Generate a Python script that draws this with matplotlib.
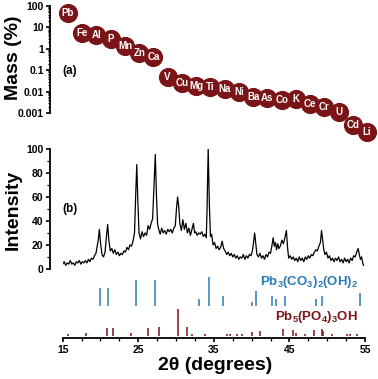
import matplotlib
matplotlib.use("Agg")
import matplotlib.pyplot as plt
from matplotlib.ticker import LogLocator, FixedLocator, NullFormatter

plt.rcParams["font.family"] = ["Liberation Sans", "DejaVu Sans"]
plt.rcParams["font.weight"] = "bold"
plt.rcParams["mathtext.fontset"] = "custom"
plt.rcParams["mathtext.rm"] = "Liberation Sans:bold"
plt.rcParams["mathtext.it"] = "Liberation Sans:bold"
plt.rcParams["mathtext.default"] = "rm"

RED = "#7a1416"
BLUE = "#2a7ab5"

# (a) elemental composition, mass %
elements = ["Pb", "Fe", "Al", "P", "Mn", "Zn", "Ca", "V", "Cu", "Mg", "Ti",
            "Na", "Ni", "Ba", "As", "Co", "K", "Ce", "Cr", "U", "Cd", "Li"]
mass = [47, 5.5, 4.4, 2.9, 1.35, 0.64, 0.42, 0.048, 0.025, 0.018, 0.016,
        0.013, 0.0095, 0.0056, 0.005, 0.004, 0.0045, 0.0026, 0.0019, 0.0011,
        0.00028, 0.00013]

# (b) XRD pattern
two_theta = [15.0, 15.2, 15.4, 15.6, 15.8, 16.0, 16.2, 16.4, 16.6, 16.8, 17.0,
             17.2, 17.4, 17.6, 17.8, 18.0, 18.2, 18.4, 18.6, 18.8, 19.0, 19.2,
             19.4, 19.6, 19.7, 19.85, 20.0, 20.2, 20.4, 20.6, 20.8, 20.95, 21.1,
             21.3, 21.5, 21.7, 21.9, 22.1, 22.3, 22.5, 22.7, 22.9, 23.1, 23.3,
             23.5, 23.7, 23.9, 24.1, 24.3, 24.5, 24.65, 24.8, 24.95, 25.1, 25.3,
             25.5, 25.7, 25.9, 26.1, 26.3, 26.5, 26.7, 26.9, 27.05, 27.25, 27.4,
             27.55, 27.7, 27.9, 28.1, 28.3, 28.5, 28.7, 28.9, 29.1, 29.3, 29.5,
             29.7, 29.9, 30.05, 30.2, 30.35, 30.5, 30.7, 30.9, 31.1, 31.3, 31.5,
             31.7, 31.9, 32.1, 32.3, 32.45, 32.6, 32.8, 33.0, 33.2, 33.4, 33.6,
             33.8, 34.0, 34.1, 34.25, 34.4, 34.55, 34.7, 34.9, 35.1, 35.3, 35.5,
             35.7, 35.9, 36.1, 36.3, 36.5, 36.7, 36.9, 37.1, 37.3, 37.5, 37.7,
             37.9, 38.1, 38.3, 38.5, 38.7, 38.9, 39.1, 39.3, 39.5, 39.7, 39.9,
             40.1, 40.25, 40.4, 40.55, 40.7, 40.9, 41.1, 41.3, 41.5, 41.7, 41.9,
             42.1, 42.3, 42.5, 42.7, 42.85, 43.0, 43.15, 43.3, 43.45, 43.6, 43.8,
             44.0, 44.2, 44.4, 44.6, 44.75, 44.9, 45.1, 45.3, 45.5, 45.7, 45.9,
             46.1, 46.3, 46.5, 46.7, 46.9, 47.1, 47.3, 47.5, 47.7, 47.9, 48.1,
             48.3, 48.5, 48.7, 48.9, 49.1, 49.25, 49.4, 49.55, 49.7, 49.9, 50.1,
             50.3, 50.5, 50.7, 50.9, 51.1, 51.3, 51.5, 51.7, 51.9, 52.1, 52.3,
             52.5, 52.7, 52.9, 53.1, 53.3, 53.5, 53.7, 53.9, 54.1, 54.25, 54.4,
             54.55, 54.7, 54.8]
intensity = [4, 6, 3, 5, 4, 7, 4, 5, 3, 6, 5,
             7, 4, 6, 5, 7, 5, 8, 6, 9, 8, 11,
             13, 20, 24, 33, 22, 12, 10, 14, 28, 37, 24,
             15, 17, 13, 16, 12, 14, 11, 13, 12, 15, 14,
             18, 16, 20, 19, 23, 30, 60, 87, 55, 30, 25,
             31, 27, 30, 28, 36, 33, 38, 42, 65, 95.5, 62,
             38, 33, 29, 34, 30, 32, 29, 33, 31, 33, 30,
             34, 36, 50, 60, 52, 38, 32, 41, 33, 38, 30,
             34, 28, 33, 38, 30, 31, 28, 30, 29, 31, 27,
             29, 26, 50, 100, 55, 27, 29, 20, 22, 17, 19,
             16, 18, 23, 17, 15, 12, 14, 11, 13, 10, 12,
             9, 11, 8, 10, 9, 12, 8, 11, 9, 12, 11,
             15, 22, 30, 21, 12, 10, 13, 9, 11, 8, 12,
             10, 14, 13, 20, 26, 19, 22, 16, 21, 17, 19,
             24, 21, 26, 32, 18, 9, 11, 8, 10, 7, 9,
             6, 10, 7, 9, 6, 10, 8, 11, 9, 12, 11,
             14, 16, 15, 19, 22, 32, 24, 16, 12, 14, 9,
             11, 7, 9, 6, 9, 7, 10, 6, 8, 5, 9,
             6, 8, 5, 9, 7, 11, 10, 14, 17, 12, 8,
             10, 5, 3]

# reference patterns (relative intensity, %)
hc_pos = [19.93, 21.03, 24.75, 27.17, 33.03, 34.3, 36.15, 39.99, 40.6, 42.72,
          43.2, 44.4, 48.5, 49.3, 54.3]
hc_int = [60, 60, 89, 89, 22, 100, 33, 14, 51, 34, 22, 33, 23, 33, 42]
hp_pos = [15.74, 18.04, 20.82, 21.69, 24.03, 26.24, 27.74, 30.21, 31.48, 32.06,
          33.82, 36.7, 37.1, 38.0, 38.7, 40.0, 41.1, 44.2, 45.5, 45.9, 47.1,
          48.2, 49.3, 49.5, 50.6, 52.6, 53.0, 53.9]
hp_int = [6, 11, 29, 29, 11, 29, 33, 100, 33, 6, 6, 6, 6, 6, 6, 13, 16, 25,
          20, 11, 8, 23, 25, 19, 8, 6, 6, 8]

fig = plt.figure(figsize=(3.78, 3.79), dpi=100)

# ---- panel (a)
ax1 = fig.add_axes([0.1323, 0.701, 0.8519, 0.2831])
idx = list(range(len(elements)))
ax1.plot(idx, mass, "o", ms=12.8, color=RED, mec=RED, clip_on=False, zorder=3)
for i, (el, m) in enumerate(zip(elements, mass)):
    ax1.text(i, m, el, color="white", fontsize=7, ha="center", va="center",
             fontweight="bold", zorder=4, clip_on=False)
ax1.set_yscale("log")
ax1.set_ylim(0.001, 100)
ax1.set_xlim(-1.264, 21.35)
for s in ["top", "right", "bottom"]:
    ax1.spines[s].set_visible(False)
ax1.spines["left"].set_linewidth(1.3)
ax1.set_xticks([])
ax1.set_yticks([0.001, 0.01, 0.1, 1, 10, 100])
ax1.set_yticklabels(["0.001", "0.01", "0.1", "1", "10", "100"])
ax1.yaxis.set_minor_locator(LogLocator(base=10, subs=range(2, 10)))
ax1.yaxis.set_minor_formatter(NullFormatter())
ax1.tick_params(axis="y", which="major", labelsize=7.5, width=1.2, length=3, pad=1.5)
ax1.tick_params(axis="y", which="minor", width=0.8, length=1.8)

# ---- panel (b)
ax2 = fig.add_axes([0.1659, 0.1069, 0.7997, 0.5])
ax2.plot(two_theta, intensity, color="black", lw=0.9)
ax2.vlines(hc_pos, -30.6, [-30.6 + h * 0.242 for h in hc_int], color=BLUE, lw=1.1)
ax2.vlines(hp_pos, -55.6, [-55.6 + h * 0.219 for h in hp_int], color=RED, lw=1.1)
ax2.text(54.1, -10.8, r"Pb$_3$(CO$_3$)$_2$(OH)$_2$", color=BLUE, fontsize=9.5,
         ha="right", va="center")
ax2.text(54.1, -40, r"Pb$_5$(PO$_4$)$_3$OH", color=RED, fontsize=9.5,
         ha="right", va="center")
ax2.set_xlim(15, 55)
ax2.set_ylim(-58, 100)
for s in ["top", "right"]:
    ax2.spines[s].set_visible(False)
ax2.spines["left"].set_position(("outward", 9.4))
ax2.spines["left"].set_bounds(0, 100)
ax2.spines["left"].set_linewidth(1.3)
ax2.spines["bottom"].set_linewidth(1.3)
ax2.set_yticks(range(0, 101, 20))
ax2.yaxis.set_minor_locator(FixedLocator(range(10, 100, 20)))
ax2.set_xticks(range(15, 56, 10))
ax2.xaxis.set_minor_locator(FixedLocator([17.5, 20, 22.5, 27.5, 30, 32.5, 37.5,
                                          40, 42.5, 47.5, 50, 52.5]))
ax2.tick_params(which="major", labelsize=7.5, width=1.2, length=3, pad=1.5)
ax2.tick_params(which="minor", width=0.9, length=2.2)

# labels
fig.text(13 / 378, 1 - 58 / 379, "Mass (%)", rotation=90, fontsize=14,
         ha="center", va="center")
fig.text(13 / 378, 1 - 210 / 379, "Intensity", rotation=90, fontsize=14,
         ha="center", va="center")
fig.text(70 / 378, 1 - 71 / 379, "(a)", fontsize=8.5, ha="center", va="center")
fig.text(70 / 378, 1 - 209 / 379, "(b)", fontsize=8.5, ha="center", va="center")
fig.text(215 / 378, 1 - 365 / 379, "2θ (degrees)", fontsize=14,
         ha="center", va="center")

fig.savefig("out.png", dpi=100)
